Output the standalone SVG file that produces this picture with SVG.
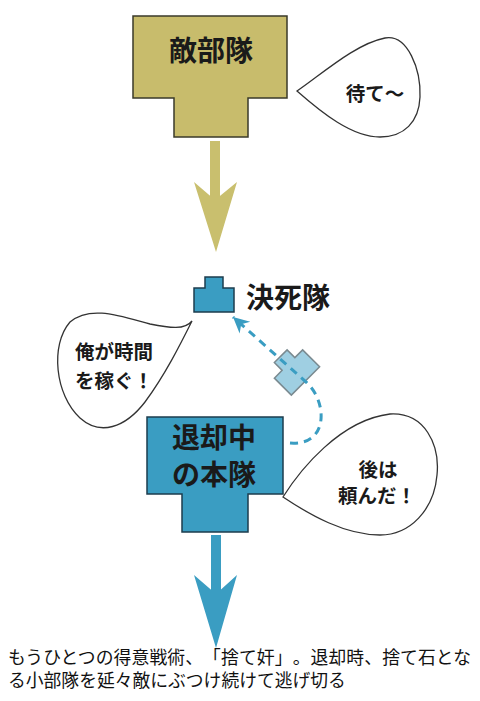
<svg xmlns="http://www.w3.org/2000/svg" width="480" height="701" viewBox="0 0 480 701">
<style>
text{text-spacing-trim:space-all}
.lbl{font-family:"Noto Sans CJK JP","Noto Sans",sans-serif;font-weight:bold;fill:#1a1a1a}
.bub{fill:#ffffff;stroke:#333333;stroke-width:1.3}
.btxt{font-family:"Noto Sans CJK JP","Noto Sans",sans-serif;font-weight:bold;font-size:19.5px;fill:#1a1a1a}
.cap{font-family:"Noto Sans CJK JP","Noto Sans",sans-serif;font-size:17.8px;fill:#111111}
.blue{fill:#3a9dc2;stroke:#1d3d4d;stroke-width:1.5}
</style>
<defs>
<marker id="ah" markerUnits="userSpaceOnUse" markerWidth="20" markerHeight="20" refX="16" refY="8" orient="auto" viewBox="0 0 20 16">
<path d="M16,8 L0,0 L5,8 L0,16 Z" fill="#3a9dc2"/>
</marker>
</defs>
<rect width="480" height="701" fill="#ffffff"/>
<g id="enemy">
<polygon points="133,16 287,16 287,98 248,98 248,137 174,137 174,98 133,98" fill="#c8bc6c" stroke="#3a3a2a" stroke-width="1.5"/>
<text class="lbl" x="211" y="61" font-size="28" text-anchor="middle">敵部隊</text>
</g>
<g id="bubble-wait">
<path class="bub" d="M297,91 C322,74 355,44 385,38 C408,34 421,70 420,97 C419,122 404,137 380,137 C352,137 322,113 297,91 Z"/>
<text class="btxt" x="375" y="101" text-anchor="middle">待て〜</text>
</g>
<g id="kesshi">
<polygon class="blue" points="205,277 223,277 223,288 234,288 234,312 194,312 194,288 205,288"/>
<text class="lbl" x="246" y="308" font-size="28">決死隊</text>
</g>
<g id="sutegamari">
<polygon points="-9,-11 9,-11 9,0 20,0 20,24 -20,24 -20,0 -9,0" transform="translate(288.5,364) rotate(-45)" fill="#9fcfe2" stroke="#7a8a90" stroke-width="1.5"/>
</g>
<g id="bubble-ore">
<path class="bub" d="M192,321 C185,330 170,328 150,324 C120,316 90,305 70,322 C50,345 55,395 80,418 C100,436 125,428 145,402 C165,375 180,345 192,321 Z"/>
<text class="btxt" x="75" y="359">俺が時間</text>
<text class="btxt" x="75" y="388">を稼ぐ！</text>
</g>
<g id="main">
<polygon class="blue" points="147,417 283,417 283,494 248,494 248,532 182,532 182,494 147,494"/>
<text class="lbl" x="214" y="448" font-size="28" text-anchor="middle">退却中</text>
<text class="lbl" x="214" y="485" font-size="28" text-anchor="middle">の本隊</text>
</g>
<g id="bubble-ato">
<path class="bub" d="M283,497 C300,470 340,420 390,414 C425,412 440,445 437,475 C434,510 410,535 380,535 C345,535 310,515 283,497 Z"/>
<text class="btxt" x="378" y="477" text-anchor="middle">後は</text>
<text class="btxt" x="377" y="503" text-anchor="middle">頼んだ！</text>
</g>
<g id="connectors">
<rect x="210" y="141" width="10" height="62" fill="#c9bf6e"/>
<polygon points="194,182 216,252 237,182 215,200" fill="#c9bf6e"/>
<rect x="211" y="535" width="10" height="62" fill="#3a9dc2"/>
<polygon points="194,575 216,648 237,575 216,594" fill="#3a9dc2"/>
<path d="M290,443 C330,446 327,400 306,382 L233,317" fill="none" stroke="#3a9dc2" stroke-width="3" stroke-dasharray="8,6" marker-end="url(#ah)"/>
</g>
<g id="caption">
<text class="cap" x="8" y="664" textLength="463" lengthAdjust="spacing">もうひとつの得意戦術、「捨て奸」。退却時、捨て石とな</text>
<text class="cap" x="8" y="687">る小部隊を延々敵にぶつけ続けて逃げ切る</text>
</g>
</svg>
